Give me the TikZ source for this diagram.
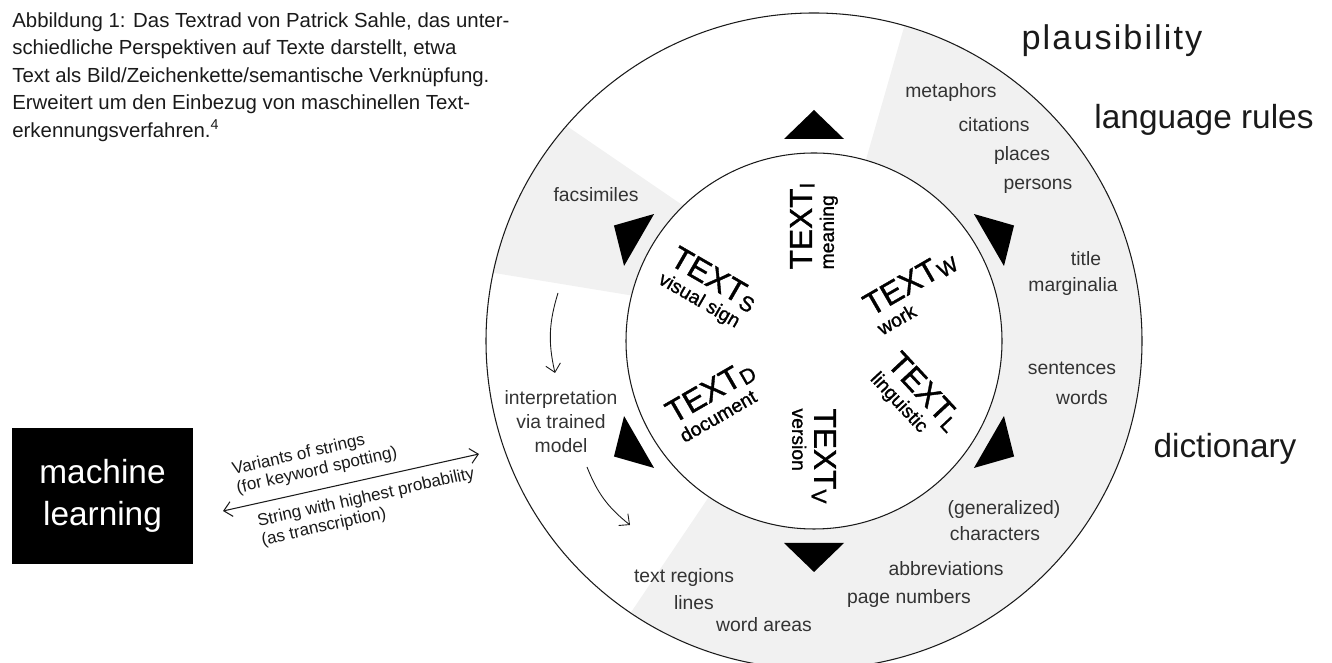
\documentclass[tikz,border=0pt]{standalone}
\usepackage{fontspec}
\setmainfont{Liberation Sans}
\newfontfamily\radfont[FakeBold=1.2]{Liberation Sans}
\usepackage{tikz}
\usetikzlibrary{arrows.meta, calc, positioning}
\definecolor{Ink}{HTML}{1A1A1A}
\definecolor{Label}{HTML}{333333}
\definecolor{Sector}{HTML}{F1F1F1}
\newcommand{\textrad}[2]{{\fontsize{18}{12}\selectfont TEXT\raisebox{-0.08em}{\fontsize{12}{12}\selectfont #1}}\\#2}
\tikzset{
  ring/.style={draw=Ink, line width=0.6pt},
  sector/.style={fill=Sector, draw=none},
  marker/.style={fill=black},
  ringlabel/.style={color=Label, font=\fontsize{11}{13}\selectfont, inner sep=0pt},
  biglabel/.style={color=Ink, font=\fontsize{19}{22}\selectfont, inner sep=0pt},
  perspective/.style={align=left, inner sep=0pt, color=black, font=\radfont\fontsize{11}{12.5}\selectfont},
  caption/.style={align=left, inner sep=0pt, color=Ink, font=\fontsize{11.6}{15.7}\selectfont},
  flow/.style={-{Straight Barb[length=1.6mm, width=3mm]}, line width=0.5pt, color=Ink},
  exchange/.style={{Straight Barb[length=1.6mm, width=3mm]}-{Straight Barb[length=1.6mm, width=3mm]}, line width=0.6pt, color=Ink},
  arrowlabel/.style={color=Ink, font=\fontsize{9.7}{11}\selectfont, align=left, inner sep=0pt},
  mlbox/.style={fill=black, text=white, align=center, inner sep=0pt, minimum width=3.62cm, minimum height=2.72cm, font=\fontsize{19}{24}\selectfont},
}

\begin{document}
\begin{tikzpicture}
  \useasboundingbox (0,0) rectangle (26.64,13.26);
  \coordinate (C) at (16.28,6.44);

  % Shaded parts of the ring
  \fill[sector] ($(C)+(74:6.56)$) arc[start angle=74, end angle=-124, radius=6.56]
    -- ($(C)+(-124:3.76)$) arc[start angle=-124, end angle=74, radius=3.76] -- cycle;
  \fill[sector] ($(C)+(139:6.56)$) arc[start angle=139, end angle=168, radius=6.56]
    -- ($(C)+(166:3.76)$) arc[start angle=166, end angle=134, radius=3.76] -- cycle;

  % Wheel
  \draw[ring] (C) circle (6.56);
  \draw[ring] (C) circle (3.76);

  % Markers between the perspectives
  \foreach \a in {90,30,-30,-90,-150,150}
    \fill[marker] ($(C)+(\a:4.62)$) -- ($(C)+(\a:4.04)+(\a+90:0.6)$) -- ($(C)+(\a:4.04)+(\a-90:0.6)$) -- cycle;

  % Perspectives on text
  \node[perspective, rotate=90] (txti) at ($(C)+(90:2.3)$) {\textrad{I}{meaning}};
  \node[perspective, rotate=30] (txtw) at ($(C)+(26:2.25)$) {\textrad{W}{work}};
  \node[perspective, rotate=-47] (txtl) at ($(C)+(-30:2.35)$) {\textrad{L}{linguistic}};
  \node[perspective, rotate=-90] (txtv) at ($(C)+(-90:2.3)$) {\textrad{V}{version}};
  \node[perspective, rotate=30] (txtd) at ($(C)+(-149:2.3)$) {\textrad{D}{document}};
  \node[perspective, rotate=-30] (txts) at ($(C)+(154:2.35)$) {\textrad{S}{visual sign}};

  % Ring labels
  \node[ringlabel] (metaphors) at (19.02,11.40) {metaphors};
  \node[ringlabel] (citations) at (19.88,10.76) {citations};
  \node[ringlabel] (places) at (20.44,10.14) {places};
  \node[ringlabel] (persons) at (20.76,9.54) {persons};
  \node[ringlabel] (title) at (21.72,8.08) {title};
  \node[ringlabel] (marginalia) at (21.46,7.52) {marginalia};
  \node[ringlabel] (sentences) at (21.44,5.90) {sentences};
  \node[ringlabel] (words) at (21.64,5.30) {words};
  \node[ringlabel] (generalized) at (20.08,3.06) {(generalized)};
  \node[ringlabel] (characters) at (19.90,2.58) {characters};
  \node[ringlabel] (abbrev) at (18.92,1.88) {abbreviations};
  \node[ringlabel] (pagenum) at (18.18,1.28) {page numbers};
  \node[ringlabel] (regions) at (13.68,1.70) {text regions};
  \node[ringlabel] (lines) at (13.88,1.20) {lines};
  \node[ringlabel] (wordareas) at (15.28,0.76) {word areas};
  \node[ringlabel] (facsimiles) at (11.92,9.36) {facsimiles};
  \node[ringlabel, align=center, font=\fontsize{11}{13.6}\selectfont] (interp) at (11.22,4.82) {interpretation\\via trained\\model};

  % Outer layers
  \node[biglabel, font=\addfontfeature{LetterSpace=6}\fontsize{19.5}{22}\selectfont] (plaus) at (22.24,12.44) {plausibility};
  \node[biglabel] (langrules) at (24.08,10.86) {language rules};
  \node[biglabel] (dict) at (24.50,4.28) {dictionary};

  % Flow through the model
  \coordinate (flowa1) at (11.16,7.40);
  \coordinate (flowa2) at (11.10,5.80);
  \coordinate (flowb1) at (11.74,3.92);
  \coordinate (flowb2) at (12.60,2.76);
  \draw[flow] (flowa1) to[bend right=15] (flowa2);
  \draw[flow] (flowb1) to[bend right=15] (flowb2);

  % Machine learning
  \node[mlbox] (ml) at (2.05,3.34) {machine\\learning};
  \coordinate (mlport) at (4.46,3.04);
  \coordinate (ringport) at (9.58,4.18);
  \draw[exchange] (mlport) -- node[arrowlabel, sloped, anchor=south west, outer sep=6pt, pos=0.03] {Variants of strings\\(for keyword spotting)}
    node[arrowlabel, sloped, anchor=north west, outer sep=6pt, pos=0.08] {String with highest probability\\(as transcription)} (ringport);

  % Caption
  \node[caption, anchor=north west] (caption) at (0.24,13.02) {Abbildung 1: Das Textrad von Patrick Sahle, das unter-\\schiedliche Perspektiven auf Texte darstellt, etwa\\Text als Bild/Zeichenkette/semantische Verknüpfung.\\Erweitert um den Einbezug von maschinellen Text-\\erkennungsverfahren.\textsuperscript{4}};
\end{tikzpicture}
\end{document}
